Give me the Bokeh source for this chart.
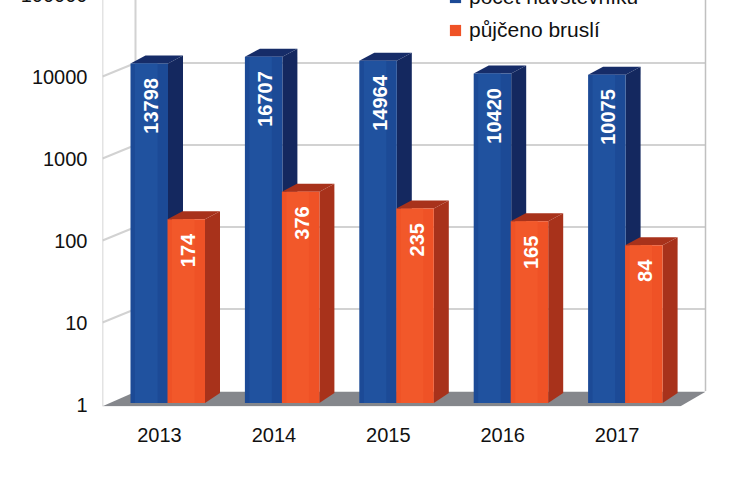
from bokeh.plotting import figure
from bokeh.models import Range1d, FixedTicker, Legend, LegendItem, ColumnDataSource
from bokeh.core.properties import value
from bokeh.embed import file_html
from bokeh.resources import INLINE
import numpy as np

years = ["2013", "2014", "2015", "2016", "2017"]
visitors = [13798, 16707, 14964, 10420, 10075]
skates = [174, 376, 235, 165, 84]
decades = [1, 10, 100, 1000, 10000, 100000]
decade_labels = ["1", "10", "100", "1000", "10000", "100000"]
series_names = ["počet návštěvníků", "půjčeno bruslí"]

FONT = "Liberation Sans"
PX_DEC = 82.0
PX_CAT = 114.4
X0 = 159.0
Y1 = 404.0
FL, FB = 102.0, 406.0
W, H = 735, 512
TOPPX = -20.0

def xd(px): return (px - X0) / PX_CAT          # pixel to x data
def yf(px): return 10 ** (px / PX_DEC)         # pixel height to factor

p = figure(width=W, height=H, output_backend="svg", toolbar_location=None,
           x_range=Range1d(xd(FL), xd(W)),
           y_range=Range1d(10 ** ((Y1 - FB) / PX_DEC), 10 ** ((Y1 - TOPPX) / PX_DEC)),
           y_axis_type="log", min_border_left=int(FL), min_border_right=0,
           min_border_top=0, min_border_bottom=int(H - (FB - TOPPX)),
           outline_line_color=None, background_fill_color="white", border_fill_color="white",
           margin=(-20, 0, 0, 0))
p.grid.visible = False

# axes
p.yaxis.ticker = FixedTicker(ticks=decades)
p.yaxis.major_label_overrides = {d: l for d, l in zip(decades, decade_labels)}
p.xaxis.ticker = FixedTicker(ticks=list(range(len(years))))
p.xaxis.major_label_overrides = {i: y for i, y in enumerate(years)}
for ax in (p.xaxis[0], p.yaxis[0]):
    ax.axis_line_color = None
    ax.major_tick_line_color = None
    ax.minor_tick_line_color = None
    ax.major_tick_in = 0
    ax.major_tick_out = 0
    ax.minor_tick_in = 0
    ax.minor_tick_out = 0
    ax.major_label_text_font = FONT
    ax.major_label_text_font_size = "20px"
    ax.major_label_text_color = "#111111"
p.yaxis[0].major_label_standoff = 15
p.xaxis[0].major_label_standoff = 21

# walls and grid
DY = yf(13.5)
BACK_R = xd(705)
GRID = "#d2d2d2"
for d in decades[1:]:
    p.line([xd(FL), xd(135)], [d, d * DY], line_color=GRID, line_width=2)
    p.line([xd(135), BACK_R], [d * DY, d * DY], line_color=GRID, line_width=2)
top = p.y_range.end
p.line([xd(FL), xd(FL)], [p.y_range.start, top], line_color="#c8c8c8", line_width=1.5)
p.line([xd(135), xd(135)], [DY, top], line_color=GRID, line_width=2)
p.line([BACK_R, BACK_R], [DY, top], line_color="#c0c0c0", line_width=1.5)
p.patch([xd(FL), xd(680), BACK_R, xd(135)],
        [p.y_range.start * 1.005, p.y_range.start * 1.005, DY * 0.98, DY * 0.98],
        fill_color="#85878c", line_color=None)

# bars
BW = 37.5 / PX_CAT
SX, SY = 15 / PX_CAT, yf(8)
LIFT = yf(1.5)
off_b, off_o = -29 / PX_CAT, 8 / PX_CAT
def bars(vals, off, front, side, topc, light):
    x = np.arange(len(vals)) + off
    v = np.array(vals, dtype=float) * LIFT
    base = yf(1.5)
    p.patches([[a + BW, a + BW + SX, a + BW + SX, a + BW] for a in x],
              [[base, base * yf(10), b * SY, b] for b in v], fill_color=side, line_color=None)
    p.patches([[a, a + SX, a + BW + SX, a + BW] for a in x],
              [[b, b * SY, b * SY, b] for b in v], fill_color=topc, line_color=None)
    r = p.quad(left=x, right=x + BW, bottom=base, top=v, fill_color=front, line_color=None)
    p.quad(left=x + BW * 0.12, right=x + BW * 0.72, bottom=base, top=v, fill_color=light, line_color=None)
    return r

r1 = bars(visitors, off_b, "#1c4a96", "#14285f", "#162c68", "#20529f")
r2 = bars(skates, off_o, "#ef5226", "#a8321b", "#a8321b", "#f2582a")

# data labels
for vals, off in ((visitors, off_b), (skates, off_o)):
    src = ColumnDataSource(dict(x=np.arange(len(vals)) + off + BW / 2 + 1.5 / PX_CAT,
                                y=vals, t=[str(v) for v in vals]))
    p.text("x", "y", text="t", source=src, angle=np.pi / 2, text_align="right",
           text_baseline="middle", y_offset=13, text_color="white",
           text_font=value(FONT), text_font_style="bold", text_font_size="20px")

legend = Legend(items=[LegendItem(label=series_names[0], renderers=[r1]),
                       LegendItem(label=series_names[1], renderers=[r2])],
                location=(346, 364), orientation="vertical", background_fill_alpha=0,
                border_line_color=None, label_text_font=FONT, label_text_font_size="21px",
                label_text_color="#111111", glyph_width=14, glyph_height=14,
                spacing=9, label_standoff=7, padding=0, margin=0)
p.add_layout(legend)

open("out.html", "w").write(file_html(p, INLINE))
